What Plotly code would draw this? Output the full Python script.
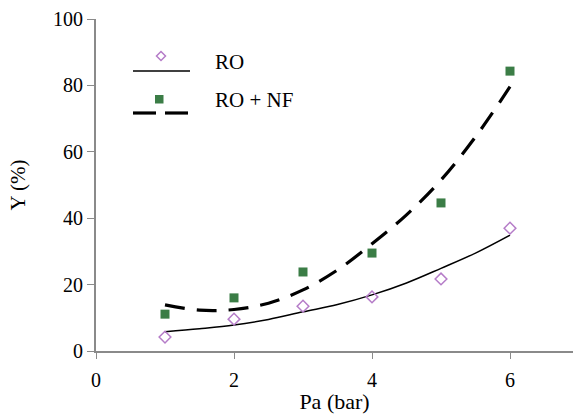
import plotly.graph_objects as go

# Measured data
pa = [1, 2, 3, 4, 5, 6]
y_ro = [4.2, 9.6, 13.5, 16.3, 21.7, 37.0]
y_ronf = [11.1, 16.0, 23.8, 29.5, 44.6, 84.3]

# Trend curves
pa_fit = [1, 1.5, 2, 2.5, 3, 3.5, 4, 4.5, 5, 5.5, 6]
ro_fit = [5.8, 6.7, 7.8, 9.5, 11.8, 14.0, 16.9, 20.5, 24.9, 29.5, 34.9]
ronf_fit = [13.9, 12.3, 12.5, 14.4, 18.4, 24.4, 32.3, 41.0, 51.5, 64.5, 79.6]

x_ticks = [0, 2, 4, 6]
y_ticks = [0, 20, 40, 60, 80, 100]

FONT = "Liberation Serif"
PURPLE = "#b57cc8"
GREEN = "#3b7d46"
AXIS = "#8a8a8a"

fig = go.Figure()
fig.add_trace(go.Scatter(x=pa_fit, y=ro_fit, mode="lines", line=dict(color="black", width=1.5, shape="spline"),
                         showlegend=False, hoverinfo="skip"))
fig.add_trace(go.Scatter(x=pa_fit, y=ronf_fit, mode="lines",
                         line=dict(color="black", width=3.2, dash="20px,12px", shape="spline"),
                         showlegend=False, hoverinfo="skip"))
fig.add_trace(go.Scatter(x=pa, y=y_ro, mode="markers",
                         marker=dict(symbol="diamond-open", size=9, color=PURPLE, line=dict(width=1.5, color=PURPLE)),
                         name="RO", showlegend=False))
fig.add_trace(go.Scatter(x=pa, y=y_ronf, mode="markers",
                         marker=dict(symbol="square", size=9, color=GREEN),
                         name="RO + NF", showlegend=False))

W, H = 573, 414
L, R, T, B = 96, 0, 19, 63
pw, ph = W - L - R, H - T - B

def px(x):
    return (x - L) / pw

def py(y):
    return 1 - (y - T) / ph

shapes = [
    # legend RO solid line
    dict(type="line", xref="paper", yref="paper", x0=px(133), x1=px(190), y0=py(71), y1=py(71),
         line=dict(color="black", width=1.5)),
    # legend RO+NF dashed line
    dict(type="line", xref="paper", yref="paper", x0=px(133), x1=px(156), y0=py(113), y1=py(113),
         line=dict(color="black", width=3.2)),
    dict(type="line", xref="paper", yref="paper", x0=px(165), x1=px(188), y0=py(113), y1=py(113),
         line=dict(color="black", width=3.2)),
    # legend diamond
    dict(type="path", xref="paper", yref="paper",
         path=f"M {px(161)} {py(51.5)} L {px(165.5)} {py(56)} L {px(161)} {py(60.5)} L {px(156.5)} {py(56)} Z",
         line=dict(color=PURPLE, width=1.5)),
    # legend square
    dict(type="rect", xref="paper", yref="paper", x0=px(155), x1=px(163.5), y0=py(95), y1=py(103.5),
         fillcolor=GREEN, line=dict(width=0)),
]

annotations = [
    dict(text="RO", xref="paper", yref="paper", x=px(213), y=py(62), xanchor="left", yanchor="middle",
         showarrow=False, font=dict(family=FONT, size=21, color="black")),
    dict(text="RO + NF", xref="paper", yref="paper", x=px(213), y=py(100), xanchor="left", yanchor="middle",
         showarrow=False, font=dict(family=FONT, size=21, color="black")),
]

fig.update_layout(
    width=W, height=H,
    margin=dict(l=L, r=R, t=T, b=B),
    paper_bgcolor="white", plot_bgcolor="white",
    font=dict(family=FONT, size=20, color="black"),
    shapes=shapes, annotations=annotations,
    xaxis=dict(range=[0, (W - L) / 69.0], tickvals=x_ticks, ticktext=[str(v) for v in x_ticks],
               showgrid=False, zeroline=False, showline=True, linecolor=AXIS, linewidth=2,
               ticks="outside", ticklen=6, tickcolor=AXIS, tickwidth=1, ticklabelstandoff=4,
               title=dict(text="Pa (bar)", font=dict(size=22), standoff=2),
               tickfont=dict(size=20)),
    yaxis=dict(range=[0, 100], tickvals=y_ticks, ticktext=[str(v) for v in y_ticks],
               showgrid=False, zeroline=False, showline=True, linecolor=AXIS, linewidth=2,
               ticks="outside", ticklen=7, tickcolor=AXIS, tickwidth=1,
               title=dict(text="Y (%)", font=dict(size=21), standoff=22),
               tickfont=dict(size=20)),
)

fig.write_html("out.html")
